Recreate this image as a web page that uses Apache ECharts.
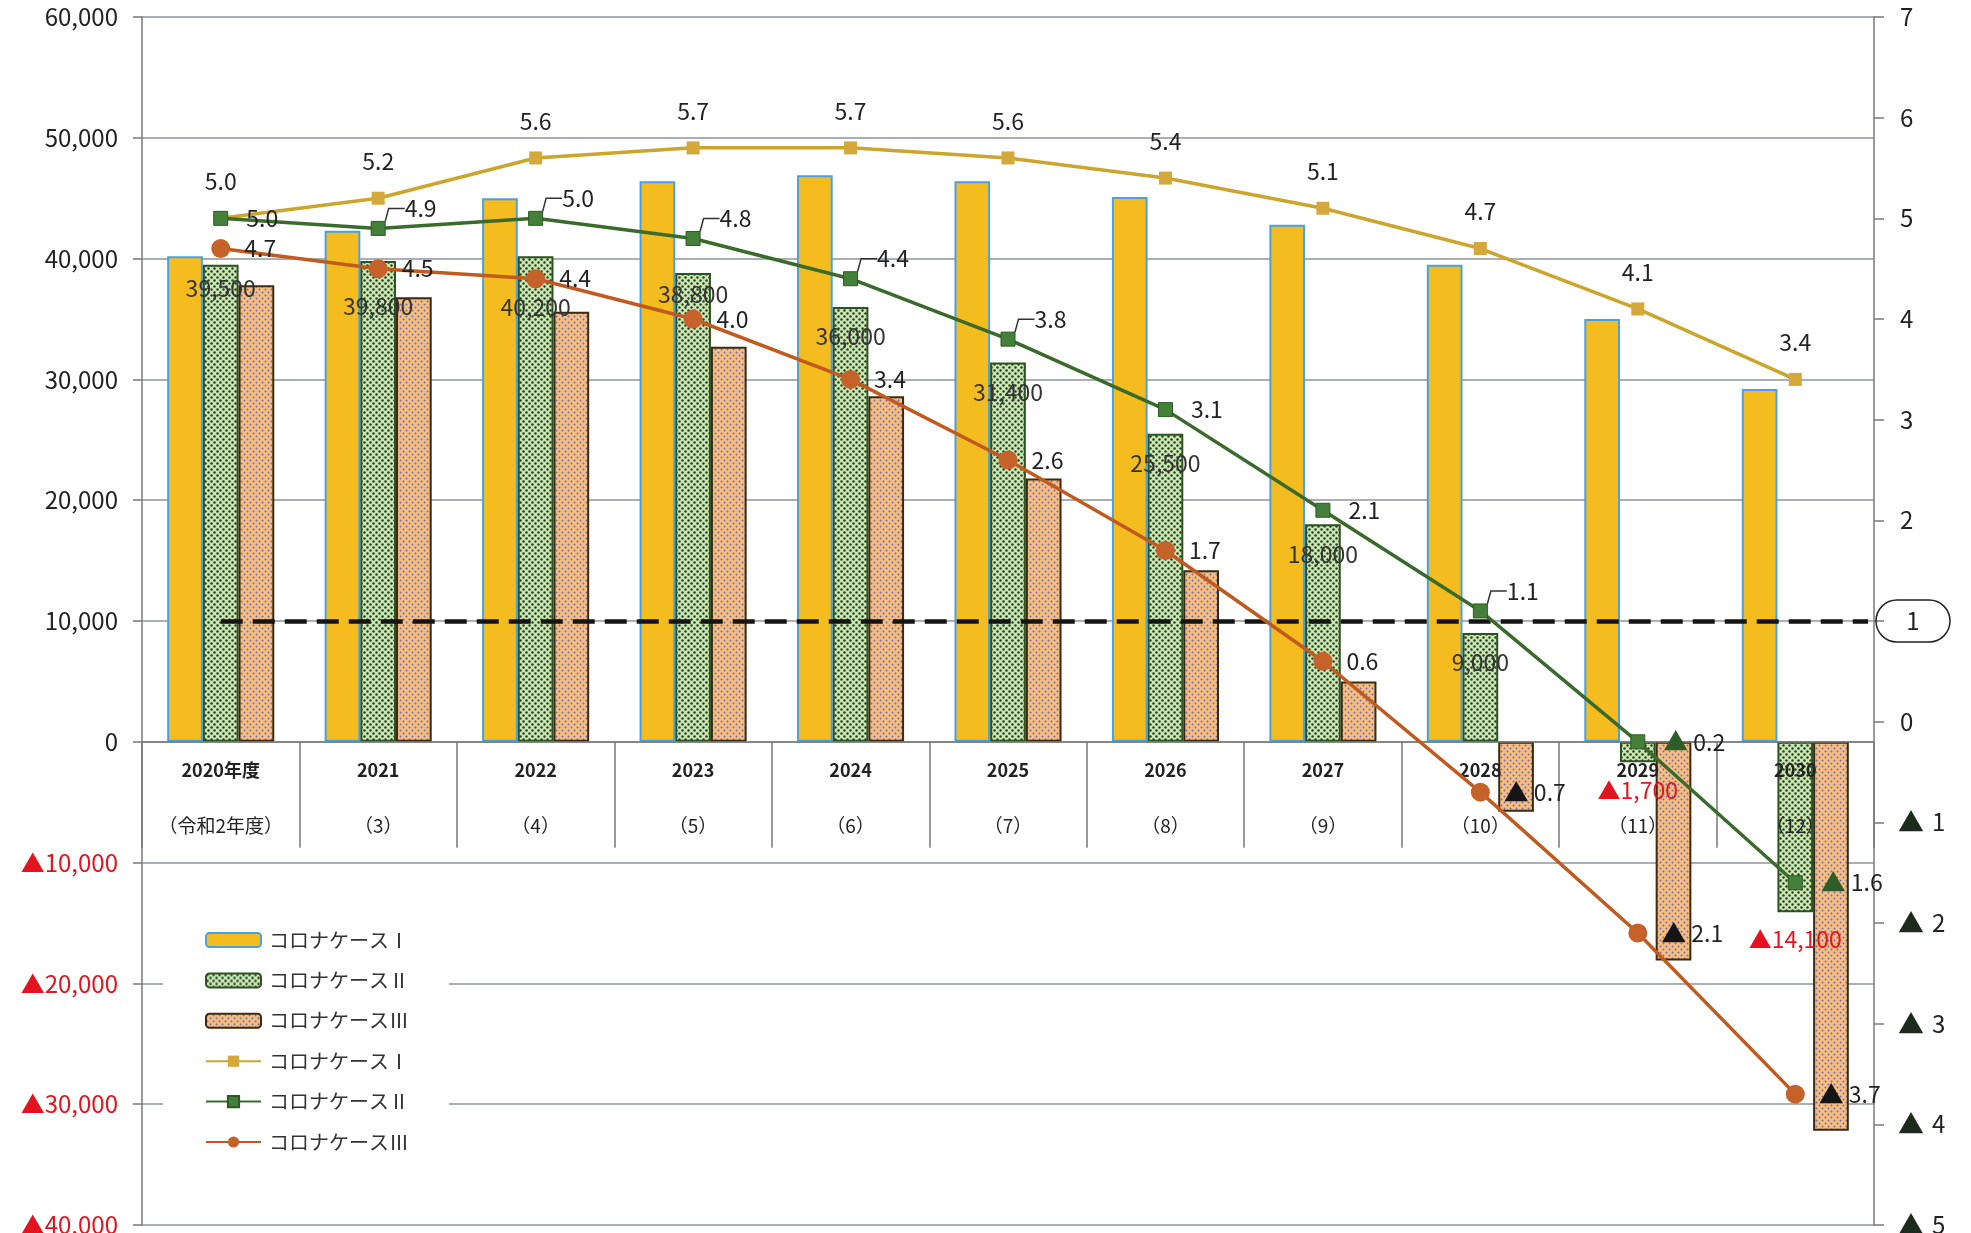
<!DOCTYPE html>
<html lang="ja">
<head>
<meta charset="utf-8">
<title>コロナケース別 収支見通し</title>
<script src="https://cdn.jsdelivr.net/npm/echarts@6/dist/echarts.min.js"></script>
<style>
  html, body { margin: 0; padding: 0; background: #ffffff; }
  #chart { width: 1971px; height: 1233px; }
</style>
</head>
<body>
<div id="chart"></div>
<script>
// ---- data ----
const fiscalYears = ['2020年度', '2021', '2022', '2023', '2024', '2025', '2026', '2027', '2028', '2029', '2030'];
const eraYears = ['（令和2年度）', '（3）', '（4）', '（5）', '（6）', '（7）', '（8）', '（9）', '（10）', '（11）', '（12）'];
const caseNames = ['コロナケースⅠ', 'コロナケースⅡ', 'コロナケースⅢ'];

// bars (left axis)
const balanceCase1 = [40200, 42300, 45000, 46400, 46900, 46400, 45100, 42800, 39500, 35000, 29200];
const balanceCase2 = [39500, 39800, 40200, 38800, 36000, 31400, 25500, 18000, 9000, -1700, -14100];
const balanceCase3 = [37800, 36800, 35600, 32700, 28600, 21800, 14200, 5000, -5800, -18100, -32200];

// lines (right axis)
const ratioCase1 = [5.0, 5.2, 5.6, 5.7, 5.7, 5.6, 5.4, 5.1, 4.7, 4.1, 3.4];
const ratioCase2 = [5.0, 4.9, 5.0, 4.8, 4.4, 3.8, 3.1, 2.1, 1.1, -0.2, -1.6];
const ratioCase3 = [4.7, 4.5, 4.4, 4.0, 3.4, 2.6, 1.7, 0.6, -0.7, -2.1, -3.7];

// axis scales
const leftAxisRange = [-40000, 60000, 10000];
const rightAxisRange = [-5, 7, 1];
const thresholdRatio = 1;

// Case II labels that sit above-right of their marker with a leader line
const liftedCase2Labels = [1, 2, 3, 4, 5, 8];
// vertical nudges (px) for the Case II bar value labels, keeps them clear of the lines
const case2BarLabelNudge = [-6, 16, 22, -8, 0, 0, 0, 0, 0, 0, 0];

// ---- layout ----
const CHART_W = 1971, CHART_H = 1233;
const GRID = { left: 142, right: 97, top: 17, bottom: 8 };
// category axis sits on the zero line of the left axis
const plotH = CHART_H - GRID.top - GRID.bottom;
const zeroFromBottom = plotH * (0 - leftAxisRange[0]) / (leftAxisRange[1] - leftAxisRange[0]);

// ---- helpers ----
const FONT = "'Noto Sans CJK JP', 'Noto Sans', sans-serif";
const RED = '#e3141f';

function fmtThousands(v) {
  return Math.round(v).toLocaleString('en-US');
}

function dotPattern(bg, dot, tile, r) {
  const c = document.createElement('canvas');
  c.width = tile; c.height = tile;
  const g = c.getContext('2d');
  g.fillStyle = bg;
  g.fillRect(0, 0, tile, tile);
  g.fillStyle = dot;
  [[tile * 0.25, tile * 0.25], [tile * 0.75, tile * 0.75]].forEach(([x, y]) => {
    g.beginPath();
    g.arc(x, y, r, 0, Math.PI * 2);
    g.fill();
  });
  return { image: c, repeat: 'repeat' };
}

const greenDots = dotPattern('#cbe5b5', '#1f3d17', 6, 1.2);
const peachDots = dotPattern('#f6be82', '#6c69ad', 6, 0.95);

function ratioLabel(p) {
  const v = p.value;
  if (v < 0) return '{tri|▲}{num|' + (-v).toFixed(1) + '}';
  return '{num|' + v.toFixed(1) + '}';
}

function ratioRich(triColor) {
  return {
    num: { fontSize: 23, color: '#222', fontFamily: FONT },
    tri: { fontSize: 25, color: triColor, fontFamily: FONT, padding: [0, 5, 0, 0] }
  };
}

// ---- chart ----
const chart = echarts.init(document.getElementById('chart'), null, { renderer: 'canvas' });

const option = {
  backgroundColor: '#ffffff',
  animation: false,
  textStyle: { fontFamily: FONT },
  grid: {
    left: GRID.left, right: GRID.right, top: GRID.top, bottom: GRID.bottom,
    containLabel: false,
    outerBoundsMode: 'none'
  },
  legend: {
    orient: 'vertical',
    left: 163,
    top: 918,
    padding: [12, 40, 12, 42],
    backgroundColor: '#ffffff',
    itemWidth: 55,
    itemHeight: 14,
    itemGap: 20.4,
    textStyle: { fontSize: 20, color: '#333', lineHeight: 20, padding: [0, 0, 0, 3], fontFamily: FONT },
    formatter: (name) => name.trim(),
    data: [caseNames[0], caseNames[1], caseNames[2], caseNames[0] + ' ', caseNames[1] + ' ', caseNames[2] + ' ']
  },
  xAxis: {
    type: 'category',
    data: fiscalYears,
    position: 'bottom',
    offset: -zeroFromBottom,
    z: 3,
    axisLine: { show: true, onZero: false, lineStyle: { color: '#7a7a7a', width: 1.5 } },
    axisTick: { show: true, length: 106, lineStyle: { color: '#7a7a7a', width: 1.5 } },
    axisLabel: {
      interval: 0,
      margin: 0,
      formatter: (v, i) => '{y|' + v + '}\n{e|' + eraYears[i] + '}',
      rich: {
        y: { fontSize: 18, fontWeight: 'bold', lineHeight: 56, color: '#222', fontFamily: FONT },
        e: { fontSize: 19, lineHeight: 56, color: '#222', fontFamily: FONT }
      }
    },
    splitLine: { show: false }
  },
  yAxis: [
    {
      type: 'value',
      position: 'left',
      min: leftAxisRange[0],
      max: leftAxisRange[1],
      interval: leftAxisRange[2],
      axisLine: { show: true, lineStyle: { color: '#7a7a7a', width: 1.5 } },
      axisTick: { show: true, length: 9, lineStyle: { color: '#7a7a7a', width: 1.5 } },
      splitLine: { show: true, lineStyle: { color: '#8f959c', width: 1.5 } },
      axisLabel: {
        margin: 24,
        fontSize: 24,
        color: '#222',
        fontFamily: FONT,
        formatter: (v) => v < 0 ? '{n|▲' + fmtThousands(-v) + '}' : fmtThousands(v),
        rich: { n: { color: RED, fontSize: 24, fontFamily: FONT } }
      }
    },
    {
      type: 'value',
      position: 'right',
      min: rightAxisRange[0],
      max: rightAxisRange[1],
      interval: rightAxisRange[2],
      axisLine: { show: true, lineStyle: { color: '#7a7a7a', width: 1.5 } },
      axisTick: { show: true, length: 10, lineStyle: { color: '#7a7a7a', width: 1.5 } },
      splitLine: { show: false },
      axisLabel: {
        margin: 2,
        fontSize: 24,
        color: '#222',
        fontFamily: FONT,
        formatter: (v) => {
          if (v < 0) return '{t|▲}{p|' + (-v) + '}';
          if (v === thresholdRatio) return '{c|' + v + '}';
          return '{d|' + v + '}';
        },
        rich: {
          d: { fontSize: 24, color: '#222', padding: [0, 0, 0, 24], fontFamily: FONT },
          t: { fontSize: 26, color: '#1d2a1d', padding: [0, 8, 0, 22], fontFamily: FONT },
          p: { fontSize: 24, color: '#222', fontFamily: FONT },
          c: {
            fontSize: 24, color: '#222', fontFamily: FONT,
            width: 74, height: 42, align: 'center',
            borderColor: '#222', borderWidth: 1.5, borderRadius: 30
          }
        }
      }
    }
  ],
  series: [
    {
      name: caseNames[0],
      type: 'bar',
      yAxisIndex: 0,
      barGap: '0%',
      barCategoryGap: '32%',
      z: 2,
      itemStyle: { color: '#f5bc1f', borderColor: '#47a2e2', borderWidth: 2 },
      data: balanceCase1
    },
    {
      name: caseNames[1],
      type: 'bar',
      yAxisIndex: 0,
      z: 2,
      itemStyle: { color: greenDots, borderColor: '#2c5221', borderWidth: 2 },
      label: {
        show: true,
        position: 'insideTop',
        distance: 18,
        fontSize: 23,
        color: '#333',
        fontFamily: FONT,
        formatter: (p) => p.value < 0 ? '▲' + fmtThousands(-p.value) : fmtThousands(p.value)
      },
      data: balanceCase2.map((v, i) => v < 0
        ? { value: v, label: { position: 'bottom', distance: 16, color: RED } }
        : { value: v, label: { offset: [0, case2BarLabelNudge[i]] } })
    },
    {
      name: caseNames[2],
      type: 'bar',
      yAxisIndex: 0,
      z: 2,
      itemStyle: { color: peachDots, borderColor: '#3a2a12', borderWidth: 2 },
      data: balanceCase3
    },
    {
      name: caseNames[0] + ' ',
      type: 'line',
      yAxisIndex: 1,
      z: 4,
      symbol: 'rect',
      symbolSize: 13,
      color: '#cba52c',
      lineStyle: { width: 3.5, color: '#cba52c' },
      itemStyle: { color: '#d4a83a' },
      label: {
        show: true,
        position: 'top',
        distance: 19,
        formatter: ratioLabel,
        rich: ratioRich('#222')
      },
      markLine: {
        silent: true,
        symbol: ['none', 'none'],
        label: { show: false },
        lineStyle: { type: [22, 10], width: 4.5, color: '#141414' },
        // runs from the first year out to the right edge of the plot
        data: [[{ coord: [0, thresholdRatio] }, { coord: [fiscalYears.length - 1, thresholdRatio], x: CHART_W - GRID.right - 6 }]]
      },
      data: ratioCase1
    },
    {
      name: caseNames[1] + ' ',
      type: 'line',
      yAxisIndex: 1,
      z: 5,
      symbol: 'rect',
      symbolSize: 14,
      color: '#3a6a2c',
      lineStyle: { width: 3.5, color: '#3a6a2c' },
      itemStyle: { color: '#44803a', borderColor: '#2b5a23', borderWidth: 1 },
      label: {
        show: true,
        position: 'right',
        distance: 8,
        padding: [0, 0, 0, 10],
        formatter: ratioLabel,
        rich: ratioRich('#2f5d2a')
      },
      labelLayout: (p) => liftedCase2Labels.includes(p.dataIndex) ? { dx: 1, dy: -20 } : {},
      labelLine: { show: false, length2: 16, lineStyle: { color: '#333', width: 1.5 } },
      data: ratioCase2.map((v, i) => ({ value: v, labelLine: { show: liftedCase2Labels.includes(i) } }))
    },
    {
      name: caseNames[2] + ' ',
      type: 'line',
      yAxisIndex: 1,
      z: 5,
      symbol: 'circle',
      symbolSize: 19,
      color: '#c15a1e',
      lineStyle: { width: 3.5, color: '#c15a1e' },
      itemStyle: { color: '#c4622a' },
      label: {
        show: true,
        position: 'right',
        distance: 14,
        formatter: ratioLabel,
        rich: ratioRich('#151515')
      },
      data: ratioCase3
    }
  ]
};

chart.setOption(option);
</script>
</body>
</html>
